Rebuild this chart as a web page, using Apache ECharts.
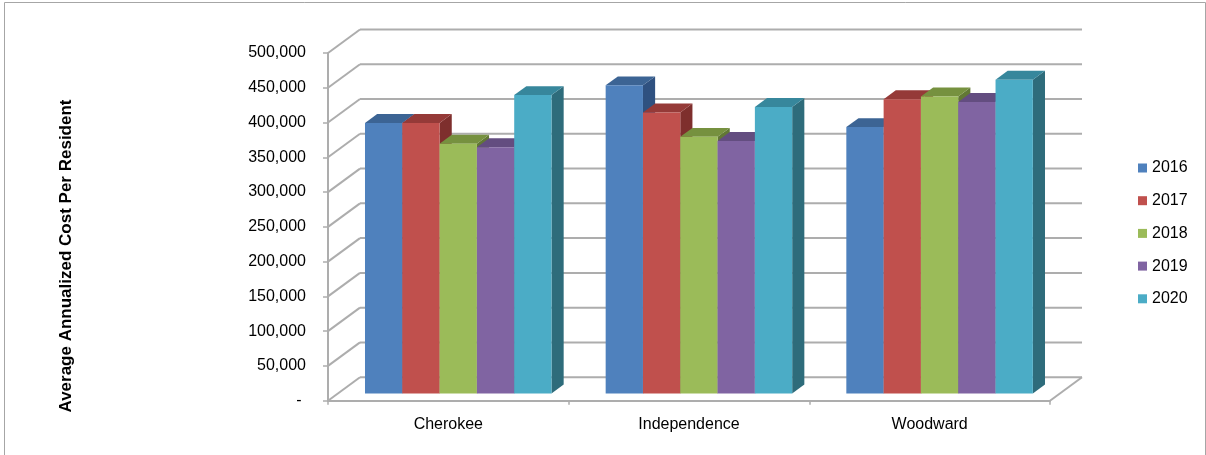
<!DOCTYPE html>
<html>
<head>
<meta charset="utf-8">
<script src="https://cdn.jsdelivr.net/npm/echarts@6/dist/echarts.min.js"></script>
<style>
  html, body { margin: 0; padding: 0; background: #ffffff; }
  #chart { width: 1206px; height: 455px; }
</style>
</head>
<body>
<div id="chart"></div>
<script>
// Facilities along the category axis
const facilities = ['Cherokee', 'Independence', 'Woodward'];
// One series per year
const years = ['2016', '2017', '2018', '2019', '2020'];
// Average annualized cost per resident, per facility
const cost2016 = [389000, 443000, 383000];
const cost2017 = [389000, 404000, 423000];
const cost2018 = [359000, 369000, 427000];
const cost2019 = [354000, 363000, 419000];
const cost2020 = [429000, 412000, 451000];
// Value axis ticks
const yTicks = [0, 50000, 100000, 150000, 200000, 250000, 300000, 350000, 400000, 450000, 500000];

const costsByYear = [cost2016, cost2017, cost2018, cost2019, cost2020];

// Face colours of the 3D columns: front, top, right side
const frontColors = ['#4F81BD', '#C0504D', '#9BBB59', '#8064A2', '#4BACC6'];
const topColors   = ['#3C6494', '#953A38', '#76913F', '#634D80', '#37879C'];
const sideColors  = ['#2F5180', '#7E2F2D', '#627835', '#51406A', '#2E6C7B'];

// Oblique projection used for the depth of the floor and walls
const DEPTH_X = 32;
const DEPTH_Y = 23.5;
// Columns sit between these fractions of the floor depth
const BAR_T0 = 0.31;
const BAR_T1 = 0.69;
// Column width as a share of one category band
const BAR_SHARE = 0.155;

const FONT = '"Liberation Sans", Arial, sans-serif';
const GRID_COLOR = '#ADADAD';

function barRenderer(idx) {
  return function (params, api) {
    const cat = api.value(0);
    const val = api.value(1);
    const base = api.coord([cat, 0]);
    const topPt = api.coord([cat, val]);
    const band = api.size([1, 0])[0];
    const w = band * BAR_SHARE;
    const x0 = base[0] - 2.5 * w + idx * w + DEPTH_X * BAR_T0;
    const yb = base[1] - DEPTH_Y * BAR_T0;
    const yt = topPt[1] - DEPTH_Y * BAR_T0;
    const ddx = DEPTH_X * (BAR_T1 - BAR_T0);
    const ddy = DEPTH_Y * (BAR_T1 - BAR_T0);
    return {
      type: 'group',
      children: [
        {
          type: 'polygon',
          shape: { points: [[x0 + w, yb], [x0 + w, yt], [x0 + w + ddx, yt - ddy], [x0 + w + ddx, yb - ddy]] },
          style: { fill: sideColors[idx] }
        },
        {
          type: 'polygon',
          shape: { points: [[x0, yt], [x0 + w, yt], [x0 + w + ddx, yt - ddy], [x0 + ddx, yt - ddy]] },
          style: { fill: topColors[idx] }
        },
        {
          type: 'rect',
          shape: { x: x0, y: yt, width: w, height: yb - yt },
          style: { fill: frontColors[idx] }
        }
      ]
    };
  };
}

// Side wall diagonals and back wall gridlines, one per tick value
function wallRenderer(params, api) {
  const cs = params.coordSys;
  const v = api.value(1);
  const y = api.coord([0, v])[1];
  const xl = cs.x;
  const xr = cs.x + cs.width;
  const st = { stroke: GRID_COLOR, lineWidth: 2 };
  const children = [
    { type: 'line', shape: { x1: xl, y1: y, x2: xl + DEPTH_X, y2: y - DEPTH_Y }, style: st },
    { type: 'line', shape: { x1: xl + DEPTH_X, y1: y - DEPTH_Y, x2: xr + DEPTH_X, y2: y - DEPTH_Y }, style: st }
  ];
  if (v === 0) {
    children.push({ type: 'line', shape: { x1: xr, y1: y, x2: xr + DEPTH_X, y2: y - DEPTH_Y }, style: st });
  }
  return { type: 'group', children: children };
}

const series = [
  {
    name: 'wall',
    type: 'custom',
    renderItem: wallRenderer,
    data: yTicks.map(function (v) { return [0, v]; }),
    clip: false,
    silent: true,
    z: 1
  }
];
years.forEach(function (yr, i) {
  series.push({
    name: yr,
    type: 'custom',
    renderItem: barRenderer(i),
    itemStyle: { color: frontColors[i] },
    data: costsByYear[i].map(function (v, j) { return [j, v]; }),
    clip: false,
    z: 2
  });
});

const chart = echarts.init(document.getElementById('chart'), null, { renderer: 'canvas' });
chart.setOption({
  animation: false,
  backgroundColor: '#ffffff',
  grid: { left: 328, right: 156, top: 53, bottom: 54.3, containLabel: false },
  xAxis: {
    type: 'category',
    data: facilities,
    boundaryGap: true,
    axisLine: { show: true, lineStyle: { color: GRID_COLOR, width: 2 } },
    axisTick: { show: true, length: 4, lineStyle: { color: GRID_COLOR, width: 1.5 } },
    axisLabel: { color: '#000000', fontFamily: FONT, fontSize: 16, margin: 16 },
    splitLine: { show: false }
  },
  yAxis: {
    type: 'value',
    min: 0,
    max: 500000,
    interval: 50000,
    axisLine: { show: true, lineStyle: { color: GRID_COLOR, width: 2 } },
    axisTick: { show: true, length: 5, lineStyle: { color: GRID_COLOR, width: 1.5 } },
    axisLabel: {
      color: '#000000',
      fontFamily: FONT,
      fontSize: 16,
      margin: 22,
      formatter: function (v) { return v === 0 ? '- ' : v.toLocaleString('en-US'); }
    },
    splitLine: { show: false }
  },
  legend: {
    data: years,
    orient: 'vertical',
    left: 1133,
    top: 155,
    icon: 'rect',
    itemWidth: 9,
    itemHeight: 9,
    itemGap: 16.7,
    textStyle: { color: '#000000', fontFamily: FONT, fontSize: 16, lineHeight: 16 }
  },
  graphic: [
    {
      type: 'rect',
      shape: { x: 4.5, y: 2.5, width: 1201, height: 470 },
      style: { fill: 'none', stroke: '#A6A6A6', lineWidth: 1 },
      silent: true,
      z: -10
    },
    {
      type: 'text',
      x: 66,
      y: 256,
      rotation: Math.PI / 2,
      style: {
        text: 'Average Annualized Cost Per Resident',
        font: 'bold 17px ' + FONT,
        fill: '#000000',
        align: 'center',
        verticalAlign: 'middle',
        textAlign: 'center',
        textVerticalAlign: 'middle'
      },
      silent: true
    }
  ],
  series: series
});
</script>
</body>
</html>
